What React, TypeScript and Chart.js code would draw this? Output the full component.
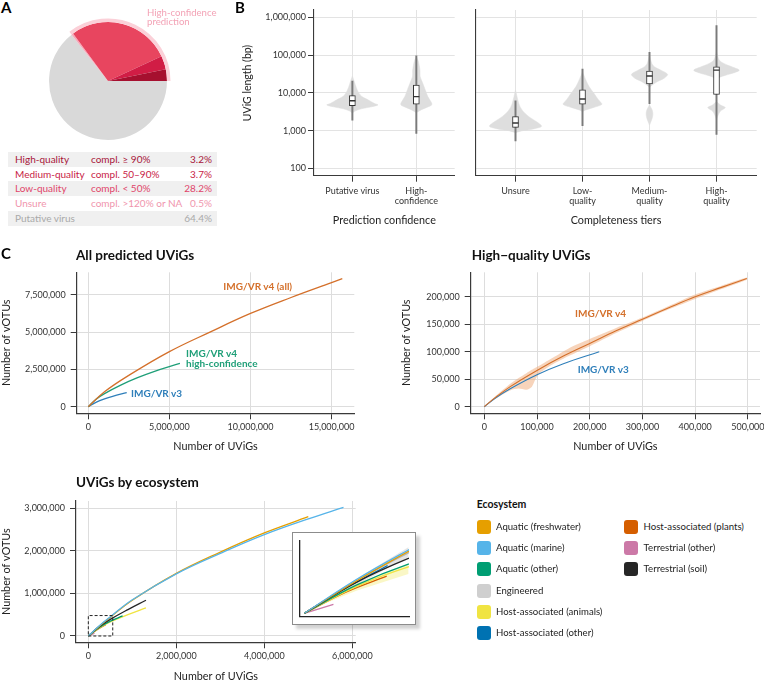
import React, { useEffect, useRef } from "react";
import { Chart, registerables } from "chart.js";

Chart.register(...registerables);

const FONT = "Lato, 'Noto Sans', 'DejaVu Sans', sans-serif";
Chart.defaults.font.family = FONT;
Chart.defaults.font.size = 9;
Chart.defaults.color = "#333";

// ---------------- Panel A data ----------------
const PIE_LABELS = ["Putative virus", "Unsure", "Low-quality", "Medium-quality", "High-quality"];
const PIE_VALUES = [64.4, 0.5, 28.2, 3.7, 3.2];
const PIE_COLORS = ["#D9D9D9", "#F6A9BA", "#E8455F", "#D11D45", "#A6102F"];
const RING_VALUES = [64.4, 35.6];
const RING_COLORS = ["rgba(0,0,0,0)", "#FBD0D8"];

const TABLE_NAMES = ["High-quality", "Medium-quality", "Low-quality", "Unsure", "Putative virus"];
const TABLE_CRITERIA = ["compl. \u2265 90%", "compl. 50\u201390%", "compl. < 50%", "compl. >120% or NA", ""];
const TABLE_PCT = ["3.2%", "3.7%", "28.2%", "0.5%", "64.4%"];
const TABLE_COLORS = ["#A8163A", "#C81B45", "#E0456A", "#F095AD", "#A9A9A9"];

// ---------------- Panel B data ----------------
const LENGTH_TICKS = [100, 1000, 10000, 100000, 1000000];
const CONF_LABELS = [["Putative virus"], ["High-", "confidence"]];
const TIER_LABELS = [["Unsure"], ["Low-", "quality"], ["Medium-", "quality"], ["High-", "quality"]];

// violin profiles: [length (bp), half-width (category units)]
const VIOLIN_PUTATIVE = [[28000, 0], [20000, 0.03], [14000, 0.06], [10000, 0.1], [8000, 0.15], [6500, 0.25], [5300, 0.34], [4800, 0.4], [4300, 0.3], [3800, 0.14], [3300, 0.04], [2900, 0]];
const VIOLIN_HIGHCONF = [[90000, 0], [70000, 0.03], [40000, 0.057], [27000, 0.06], [18000, 0.1], [12000, 0.14], [8000, 0.18], [5400, 0.24], [4800, 0.24], [4400, 0.2], [3600, 0.08], [3000, 0]];
const VIOLIN_UNSURE = [[12000, 0], [5200, 0.05], [3500, 0.1], [2350, 0.2], [1750, 0.31], [1320, 0.39], [1150, 0.3], [1000, 0.1], [890, 0]];
const VIOLIN_LOW = [[36000, 0], [22000, 0.05], [14500, 0.1], [9800, 0.17], [6500, 0.24], [5000, 0.29], [4200, 0.18], [3500, 0.04], [3200, 0]];
const VIOLIN_MEDIUM = [[100000, 0], [60000, 0.035], [49000, 0.075], [40000, 0.17], [31000, 0.27], [24500, 0.22], [20000, 0.12], [16200, 0.04], [14000, 0]];
const VIOLIN_MEDIUM_LOBE = [[4800, 0], [3550, 0.04], [2750, 0.05], [2150, 0.04], [1400, 0]];
const VIOLIN_HIGH = [[123000, 0], [74000, 0.04], [60000, 0.11], [49000, 0.23], [40000, 0.34], [34000, 0.26], [29500, 0.14], [25700, 0.04], [23000, 0]];
const VIOLIN_HIGH_LOBE = [[5900, 0], [4800, 0.06], [4100, 0.13], [3300, 0.06], [2600, 0.025], [1900, 0]];

const CONF_VIOLINS = [[VIOLIN_PUTATIVE], [VIOLIN_HIGHCONF]];
const CONF_Q1 = [4600, 5000];
const CONF_MED = [6200, 8000];
const CONF_Q3 = [8500, 16200];
const CONF_LO = [1900, 850];
const CONF_HI = [20600, 96000];

const TIER_VIOLINS = [[VIOLIN_UNSURE], [VIOLIN_LOW], [VIOLIN_MEDIUM, VIOLIN_MEDIUM_LOBE], [VIOLIN_HIGH, VIOLIN_HIGH_LOBE]];
const TIER_Q1 = [1230, 5000, 17400, 9100];
const TIER_MED = [1600, 6900, 28000, 40000];
const TIER_Q3 = [2350, 12000, 38000, 49000];
const TIER_LO = [540, 1350, 5200, 800];
const TIER_HI = [6200, 43000, 118000, 600000];

// ---------------- Panel C data ----------------
const ALL_X_TICKS = [0, 5000000, 10000000, 15000000];
const ALL_Y_TICKS = [0, 2500000, 5000000, 7500000];
const ALL_V4_X = [0, 1e6, 2.5e6, 5e6, 7.5e6, 10e6, 12.5e6, 15e6, 15.66e6];
const ALL_V4_Y = [0, 1.0e6, 2.1e6, 3.69e6, 5.0e6, 6.25e6, 7.32e6, 8.32e6, 8.58e6];
const HC_V4_X = [0, 0.5e6, 1e6, 2e6, 3e6, 4e6, 5.65e6];
const HC_V4_Y = [0, 0.52e6, 0.88e6, 1.45e6, 1.93e6, 2.34e6, 2.9e6];
const ALL_V3_X = [0, 0.5e6, 1e6, 1.5e6, 2.37e6];
const ALL_V3_Y = [0, 0.31e6, 0.53e6, 0.7e6, 0.94e6];

const HQ_X_TICKS = [0, 100000, 200000, 300000, 400000, 500000];
const HQ_Y_TICKS = [0, 50000, 100000, 150000, 200000];
const HQ_V4_X = [0, 20e3, 50e3, 100e3, 150e3, 200e3, 250e3, 300e3, 350e3, 400e3, 450e3, 498e3];
const HQ_V4_Y = [0, 16e3, 37e3, 66e3, 92e3, 115e3, 138e3, 159e3, 180e3, 200e3, 217e3, 233e3];
const HQ_RIB_X = [0, 20e3, 50e3, 65e3, 80e3, 90e3, 97e3, 105e3, 130e3, 160e3, 200e3, 250e3, 300e3, 350e3, 400e3, 450e3, 498e3];
const HQ_RIB_LO = [0, 14e3, 30e3, 33e3, 31e3, 36e3, 50e3, 61e3, 77e3, 92e3, 110e3, 134e3, 156e3, 177e3, 196e3, 214e3, 231e3];
const HQ_RIB_HI = [0, 18e3, 42e3, 52e3, 61e3, 67e3, 71e3, 75e3, 89e3, 106e3, 123e3, 143e3, 162e3, 183e3, 204e3, 220e3, 235e3];
const HQ_V3_X = [0, 20e3, 50e3, 100e3, 150e3, 218e3];
const HQ_V3_Y = [0, 15e3, 33e3, 58e3, 78e3, 100e3];

const ECO_X_TICKS = [0, 2000000, 4000000, 6000000];
const ECO_Y_TICKS = [0, 1000000, 2000000, 3000000];
const ECO_NAMES = ["Aquatic (freshwater)", "Aquatic (marine)", "Aquatic (other)", "Engineered", "Host-associated (animals)", "Host-associated (other)", "Host-associated (plants)", "Terrestrial (other)", "Terrestrial (soil)"];
const ECO_COLORS = ["#E69F00", "#56B4E9", "#009E73", "#CFCFCF", "#F0E442", "#0072B2", "#D55E00", "#CC79A7", "#262626"];
const FRESH_X = [0, 0.25e6, 0.5e6, 1e6, 2e6, 3e6, 4e6, 5e6];
const FRESH_Y = [0, 0.23e6, 0.44e6, 0.84e6, 1.47e6, 1.97e6, 2.42e6, 2.8e6];
const MARINE_X = [0, 0.25e6, 0.5e6, 1e6, 2e6, 3e6, 4e6, 5e6, 5.8e6];
const MARINE_Y = [0, 0.24e6, 0.45e6, 0.85e6, 1.46e6, 1.94e6, 2.38e6, 2.75e6, 3.02e6];
const AQOTHER_X = [0, 0.25e6, 0.5e6, 0.78e6];
const AQOTHER_Y = [0, 0.2e6, 0.35e6, 0.47e6];
const ENG_X = [0, 0.25e6, 0.5e6, 0.56e6];
const ENG_Y = [0, 0.23e6, 0.43e6, 0.47e6];
const ANIMAL_X = [0, 0.25e6, 0.5e6, 0.9e6, 1.31e6];
const ANIMAL_Y = [0, 0.19e6, 0.33e6, 0.5e6, 0.66e6];
const HOSTOTHER_X = [0, 0.2e6, 0.4e6];
const HOSTOTHER_Y = [0, 0.18e6, 0.34e6];
const PLANT_X = [0, 0.2e6, 0.396e6];
const PLANT_Y = [0, 0.15e6, 0.264e6];
const TERROTHER_X = [0, 0.14e6];
const TERROTHER_Y = [0, 0.064e6];
const SOIL_X = [0, 0.25e6, 0.5e6, 0.9e6, 1.31e6];
const SOIL_Y = [0, 0.22e6, 0.39e6, 0.62e6, 0.84e6];
const ANIMAL_RIB_X = [0, 0.1e6, 0.25e6, 0.5e6];
const ANIMAL_RIB_LO = [0, 0.07e6, 0.16e6, 0.28e6];
const ANIMAL_RIB_HI = [0, 0.095e6, 0.21e6, 0.35e6];
const ENG_RIB_X = [0, 0.15e6, 0.3e6, 0.5e6];
const ENG_RIB_LO = [0, 0.12e6, 0.24e6, 0.4e6];
const ENG_RIB_HI = [0, 0.15e6, 0.29e6, 0.47e6];
const ZOOM_X = [0, 555000];
const ZOOM_Y = [0, 480000];

// ---------------- helpers ----------------
const fmt = (v: number) => Math.round(v).toLocaleString("en-US");
const pts = (xs: number[], ys: number[]) => xs.map((x, i) => ({ x, y: ys[i] }));

function violinPoints(profile: number[][], c: number) {
  const right = profile.map(([v, w]) => ({ x: c + w, y: v }));
  const left = [...profile].reverse().map(([v, w]) => ({ x: c - w, y: v }));
  return right.concat(left);
}
function ribbonPoints(xs: number[], lo: number[], hi: number[]) {
  const top = xs.map((x, i) => ({ x, y: hi[i] }));
  const bottom = xs.map((x, i) => ({ x, y: lo[i] })).reverse();
  return top.concat(bottom);
}
function rectPoints(xr: number[], yr: number[]) {
  return [
    { x: xr[0], y: yr[0] }, { x: xr[1], y: yr[0] }, { x: xr[1], y: yr[1] },
    { x: xr[0], y: yr[1] }, { x: xr[0], y: yr[0] },
  ];
}
const lineDs = (xs: number[], ys: number[], color: string, order: number, width = 1.3) => ({
  type: "line", data: pts(xs, ys), borderColor: color, borderWidth: width, pointRadius: 0,
  fill: false, tension: 0.4, order,
});
const shapeDs = (data: any[], color: string, order: number, tension = 0) => ({
  type: "line", data, backgroundColor: color, borderColor: "rgba(0,0,0,0)", borderWidth: 0,
  pointRadius: 0, fill: "shape", tension, order,
});

const AXIS_COLOR = "#3A3A3A";
const noPlugins = { legend: { display: false }, tooltip: { enabled: false } };

// ---------------- chart configs ----------------
function pieConfig() {
  return {
    type: "doughnut",
    data: {
      labels: PIE_LABELS,
      datasets: [
        { data: RING_VALUES, backgroundColor: RING_COLORS, borderWidth: 0, weight: 0.06 },
        { data: PIE_VALUES, backgroundColor: PIE_COLORS, borderWidth: 0, weight: 1 },
      ],
    },
    options: {
      animation: false, responsive: false, events: [], cutout: 0, rotation: 90,
      layout: { padding: 2.5 }, plugins: noPlugins,
    },
  };
}

function violinConfig(p: any) {
  const datasets: any[] = [];
  p.violins.forEach((lobes: number[][][], i: number) =>
    lobes.forEach((lobe) =>
      datasets.push({
        type: "line", data: violinPoints(lobe, i), fill: "shape", backgroundColor: "#DEDEDE",
        borderColor: "#DEDEDE", borderWidth: 0.5, pointRadius: 0, tension: 0.3, order: 4,
      })
    )
  );
  datasets.push({
    type: "bar", data: p.lo.map((v: number, i: number) => ({ x: i, y: [v, p.hi[i]] })),
    backgroundColor: "#7A7A7A", barThickness: 1.3, grouped: false, borderWidth: 0, order: 3,
  });
  datasets.push({
    type: "bar", data: p.q1.map((v: number, i: number) => ({ x: i, y: [v, p.q3[i]] })),
    backgroundColor: "#FFFFFF", borderColor: "#333333", borderWidth: 1, borderSkipped: false,
    barThickness: 6, grouped: false, order: 2,
  });
  datasets.push({
    type: "scatter", data: p.med.map((v: number, i: number) => ({ x: i, y: v })),
    pointStyle: "line", pointRadius: 3, borderColor: "#333333", borderWidth: 1.3, order: 1,
  });
  return {
    type: "scatter",
    data: { datasets },
    options: {
      animation: false, responsive: false, events: [],
      layout: { padding: { top: 10, right: 4, left: 0, bottom: 0 } },
      plugins: noPlugins,
      scales: {
        x: {
          type: "linear", min: p.xMin, max: p.xMax, offset: false,
          afterBuildTicks: (s: any) => { s.ticks = p.labels.map((_: any, i: number) => ({ value: i })); },
          afterFit: (s: any) => { s.height = 51.3; },
          ticks: {
            callback: (v: number) => p.labels[Math.round(v)], autoSkip: false, maxRotation: 0,
            padding: 3.8, color: "#333", font: { size: 9, lineHeight: 1.15 },
          },
          grid: { offset: false, color: "#E3E3E3", lineWidth: 1, tickLength: 6, tickColor: AXIS_COLOR },
          border: { color: AXIS_COLOR, width: 1.1 },
          title: { display: true, text: p.title, color: "#222", font: { size: 10.8 }, padding: { top: 0, bottom: 0 } },
        },
        y: {
          type: "logarithmic", min: 64.6, max: 1.56e6, beginAtZero: false,
          afterBuildTicks: (s: any) => { s.ticks = LENGTH_TICKS.map((v) => ({ value: v })); },
          afterFit: (s: any) => { s.width = p.yW; },
          ticks: { display: p.showY, callback: (v: number) => fmt(v), padding: 2, color: "#333", font: { size: 9 } },
          grid: { color: "#E3E3E3", lineWidth: 1, tickLength: 6, drawTicks: p.showY, tickColor: AXIS_COLOR },
          border: { color: AXIS_COLOR, width: 1.1 },
        },
      },
    },
  };
}

function xyConfig(o: any) {
  return {
    type: "scatter",
    data: { datasets: o.datasets },
    options: {
      animation: false, responsive: false, events: [],
      layout: { padding: o.pad },
      plugins: noPlugins,
      scales: {
        x: {
          type: "linear", min: o.xMin, max: o.xMax, offset: false,
          afterBuildTicks: (s: any) => { s.ticks = o.xTicks.map((v: number) => ({ value: v })); },
          afterFit: (s: any) => { s.height = o.xH; },
          ticks: { display: !o.bare, callback: (v: number) => fmt(v), autoSkip: false, maxRotation: 0, padding: 2, color: "#333", font: { size: 9 } },
          grid: { display: !o.bare, offset: false, color: "#DDDDDD", lineWidth: 1, tickLength: 6, tickColor: AXIS_COLOR, drawTicks: !o.bare },
          border: { color: o.bare ? "#222" : AXIS_COLOR, width: o.bare ? 1.3 : 1.2 },
          title: { display: !o.bare, text: "Number of UViGs", color: "#222", font: { size: 10.8 }, padding: { top: 0, bottom: 0 } },
        },
        y: {
          type: "linear", min: o.yMin, max: o.yMax,
          afterBuildTicks: (s: any) => { s.ticks = o.yTicks.map((v: number) => ({ value: v })); },
          afterFit: (s: any) => { s.width = o.yW; },
          ticks: { display: !o.bare, callback: (v: number) => fmt(v), padding: 5, color: "#333", font: { size: 9 } },
          grid: { display: !o.bare, color: "#DDDDDD", lineWidth: 1, tickLength: 6, tickColor: AXIS_COLOR, drawTicks: !o.bare },
          border: { color: o.bare ? "#222" : AXIS_COLOR, width: o.bare ? 1.3 : 1.2 },
          title: { display: !o.bare, text: "Number of vOTUs", color: "#222", font: { size: 10.8 }, padding: { top: 0, bottom: 0 } },
        },
      },
    },
  };
}

function ecoLines() {
  return [
    lineDs(MARINE_X, MARINE_Y, ECO_COLORS[1], 1),
    lineDs(FRESH_X, FRESH_Y, ECO_COLORS[0], 2),
    lineDs(SOIL_X, SOIL_Y, ECO_COLORS[8], 3),
    lineDs(AQOTHER_X, AQOTHER_Y, ECO_COLORS[2], 4),
    lineDs(ANIMAL_X, ANIMAL_Y, ECO_COLORS[4], 5),
    lineDs(ENG_X, ENG_Y, "#B5B5B5", 6),
    lineDs(HOSTOTHER_X, HOSTOTHER_Y, ECO_COLORS[5], 7),
    lineDs(PLANT_X, PLANT_Y, ECO_COLORS[6], 8),
    lineDs(TERROTHER_X, TERROTHER_Y, ECO_COLORS[7], 9),
  ];
}

const allConfig = () => xyConfig({
  datasets: [
    lineDs(ALL_V4_X, ALL_V4_Y, "#D4702B", 1),
    lineDs(HC_V4_X, HC_V4_Y, "#1F9F78", 2),
    lineDs(ALL_V3_X, ALL_V3_Y, "#2F7FBA", 3),
  ],
  xMin: -0.715e6, xMax: 16.4e6, yMin: -0.442e6, yMax: 9.008e6,
  xTicks: ALL_X_TICKS, yTicks: ALL_Y_TICKS, yW: 76.7, xH: 39.7,
  pad: { top: 14.3, right: 7.7, left: 0, bottom: 0 },
});

const hqConfig = () => xyConfig({
  datasets: [
    lineDs(HQ_V4_X, HQ_V4_Y, "#D4702B", 1, 1.1),
    lineDs(HQ_V3_X, HQ_V3_Y, "#2F7FBA", 2, 1.1),
    shapeDs(ribbonPoints(HQ_RIB_X, HQ_RIB_LO, HQ_RIB_HI), "rgba(240,170,120,0.5)", 5, 0.25),
  ],
  xMin: -25.8e3, xMax: 523e3, yMin: -12e3, yMax: 244.4e3,
  xTicks: HQ_X_TICKS, yTicks: HQ_Y_TICKS, yW: 70.7, xH: 39.7,
  pad: { top: 14.3, right: 7, left: 0, bottom: 0 },
});

const ecoConfig = () => {
  const ds: any[] = ecoLines();
  ds.push({
    type: "line", data: rectPoints(ZOOM_X, ZOOM_Y), borderColor: "#222", borderWidth: 1,
    borderDash: [3, 2], pointRadius: 0, fill: false, order: 0,
  });
  return xyConfig({
    datasets: ds,
    xMin: -0.28e6, xMax: 6.077e6, yMin: -0.148e6, yMax: 3.169e6,
    xTicks: ECO_X_TICKS, yTicks: ECO_Y_TICKS, yW: 76, xH: 40.7,
    pad: { top: 14, right: 22.3, left: 0, bottom: 0 },
  });
};

const insetConfig = () => {
  const ds: any[] = ecoLines();
  ds.push(shapeDs(ribbonPoints(ANIMAL_RIB_X, ANIMAL_RIB_LO, ANIMAL_RIB_HI), "rgba(240,228,66,0.3)", 20));
  ds.push(shapeDs(ribbonPoints(ENG_RIB_X, ENG_RIB_LO, ENG_RIB_HI), "rgba(170,170,170,0.3)", 21));
  return xyConfig({
    datasets: ds, bare: true,
    xMin: -0.024e6, xMax: 0.503e6, yMin: -0.024e6, yMax: 0.516e6,
    xTicks: [], yTicks: [], yW: 0, xH: 0,
    pad: { top: 7.7, right: 6, left: 6.3, bottom: 6.3 },
  });
};

// ---------------- components ----------------
function ChartCanvas({ x, y, w, h, build, z = 1 }: any) {
  const ref = useRef<HTMLCanvasElement>(null);
  useEffect(() => {
    const chart = new Chart(ref.current as HTMLCanvasElement, build());
    return () => chart.destroy();
  }, []);
  return (
    <canvas ref={ref} width={w} height={h}
      style={{ position: "absolute", left: x, top: y, width: w, height: h, zIndex: z }} />
  );
}

function Txt({ x, y, s = 10, w = 400, c = "#222", right = false, children }: any) {
  return (
    <div style={{
      position: "absolute", left: x, top: y - s * 0.62, fontSize: s, lineHeight: `${s * 1.2}px`,
      fontWeight: w, color: c, whiteSpace: "nowrap", zIndex: 5,
      transform: right ? "translateX(-100%)" : undefined,
    }}>{children}</div>
  );
}

const ROW_TOP = 151.7;
const ROW_H = 14.85;

export default function App() {
  return (
    <div style={{
      position: "absolute", left: 0, top: 0, width: 764, height: 680, overflow: "hidden",
      background: "#fff", fontFamily: FONT,
    }}>
      {/* Panel letters */}
      <Txt x={1} y={7.5} s={15} w={700} c="#000">A</Txt>
      <Txt x={235} y={7.5} s={15} w={700} c="#000">B</Txt>
      <Txt x={1} y={253} s={15} w={700} c="#000">C</Txt>

      {/* Panel A */}
      <ChartCanvas x={43} y={16} w={130} h={130} build={pieConfig} />
      <div style={{ position: "absolute", left: 147, top: 9, fontSize: 9.6, lineHeight: "8.6px", color: "#F3A3B6", zIndex: 5 }}>
        High-confidence<br />prediction
      </div>
      {TABLE_NAMES.map((name, i) => (
        <div key={name} style={{
          position: "absolute", left: 8, top: ROW_TOP + i * ROW_H, width: 209, height: ROW_H,
          background: i % 2 === 0 ? "#F0F0F0" : "#FFFFFF", color: TABLE_COLORS[i],
          fontSize: 10, lineHeight: `${ROW_H}px`, whiteSpace: "nowrap",
        }}>
          <span style={{ position: "absolute", left: 7 }}>{name}</span>
          <span style={{ position: "absolute", left: 83 }}>{TABLE_CRITERIA[i]}</span>
          <span style={{ position: "absolute", right: 5 }}>{TABLE_PCT[i]}</span>
        </div>
      ))}

      {/* Panel B */}
      <ChartCanvas x={240} y={0} w={220} h={227} build={() => violinConfig({
        violins: CONF_VIOLINS, q1: CONF_Q1, med: CONF_MED, q3: CONF_Q3, lo: CONF_LO, hi: CONF_HI,
        labels: CONF_LABELS, xMin: -0.6, xMax: 1.6, title: "Prediction confidence", showY: true, yW: 74,
      })} />
      <ChartCanvas x={470} y={0} w={292} h={227} build={() => violinConfig({
        violins: TIER_VIOLINS, q1: TIER_Q1, med: TIER_MED, q3: TIER_Q3, lo: TIER_LO, hi: TIER_HI,
        labels: TIER_LABELS, xMin: -0.6, xMax: 3.6, title: "Completeness tiers", showY: false, yW: 5,
      })} />
      <div style={{
        position: "absolute", left: 247, top: 83, transform: "translate(-50%,-50%) rotate(-90deg)",
        fontSize: 10.5, color: "#222", whiteSpace: "nowrap", zIndex: 5,
      }}>UViG length (bp)</div>

      {/* Panel C: all predicted */}
      <Txt x={76} y={255} s={13.5} w={700} c="#111">All predicted UViGs</Txt>
      <ChartCanvas x={0} y={258} w={362} h={195} build={allConfig} />
      <Txt x={223.3} y={285.7} s={10} w={700} c="#D4702B">IMG/VR v4 (all)</Txt>
      <Txt x={186} y={352.7} s={10} w={700} c="#1F9F78">IMG/VR v4</Txt>
      <Txt x={186} y={363.3} s={10} w={700} c="#1F9F78">high-confidence</Txt>
      <Txt x={131} y={392.7} s={10} w={700} c="#2F7FBA">IMG/VR v3</Txt>

      {/* Panel C: high-quality */}
      <Txt x={471.7} y={255} s={13.5} w={700} c="#111">{"High\u2212quality UViGs"}</Txt>
      <ChartCanvas x={400} y={258} w={367} h={195} build={hqConfig} />
      <Txt x={575} y={312.7} s={10} w={700} c="#D4702B">IMG/VR v4</Txt>
      <Txt x={577.7} y={369.3} s={10} w={700} c="#2F7FBA">IMG/VR v3</Txt>

      {/* Panel C: by ecosystem */}
      <Txt x={76} y={482.3} s={13.5} w={700} c="#111">UViGs by ecosystem</Txt>
      <ChartCanvas x={0} y={487} w={378} h={196} build={ecoConfig} />
      <div style={{
        position: "absolute", left: 292, top: 532, width: 124, height: 93, boxSizing: "border-box",
        border: "1px solid #8C8C8C", background: "#fff", boxShadow: "4px 4px 3px rgba(0,0,0,0.18)", zIndex: 2,
      }} />
      <ChartCanvas x={293} y={533} w={122} h={90} build={insetConfig} z={3} />

      {/* Legend */}
      <Txt x={476.7} y={504.3} s={10.5} w={700} c="#111">Ecosystem</Txt>
      {ECO_NAMES.map((name, i) => {
        const col = i < 6 ? 0 : 1;
        const row = i < 6 ? i : i - 6;
        const sx = col === 0 ? 476.7 : 624.3;
        const cy = 526.7 + row * 21.3;
        return (
          <React.Fragment key={name}>
            <div style={{
              position: "absolute", left: sx, top: cy - 7, width: 14, height: 14, borderRadius: 3,
              background: ECO_COLORS[i], zIndex: 5,
            }} />
            <Txt x={sx + 19.3} y={cy} s={9.6} c="#222">{name}</Txt>
          </React.Fragment>
        );
      })}
    </div>
  );
}
